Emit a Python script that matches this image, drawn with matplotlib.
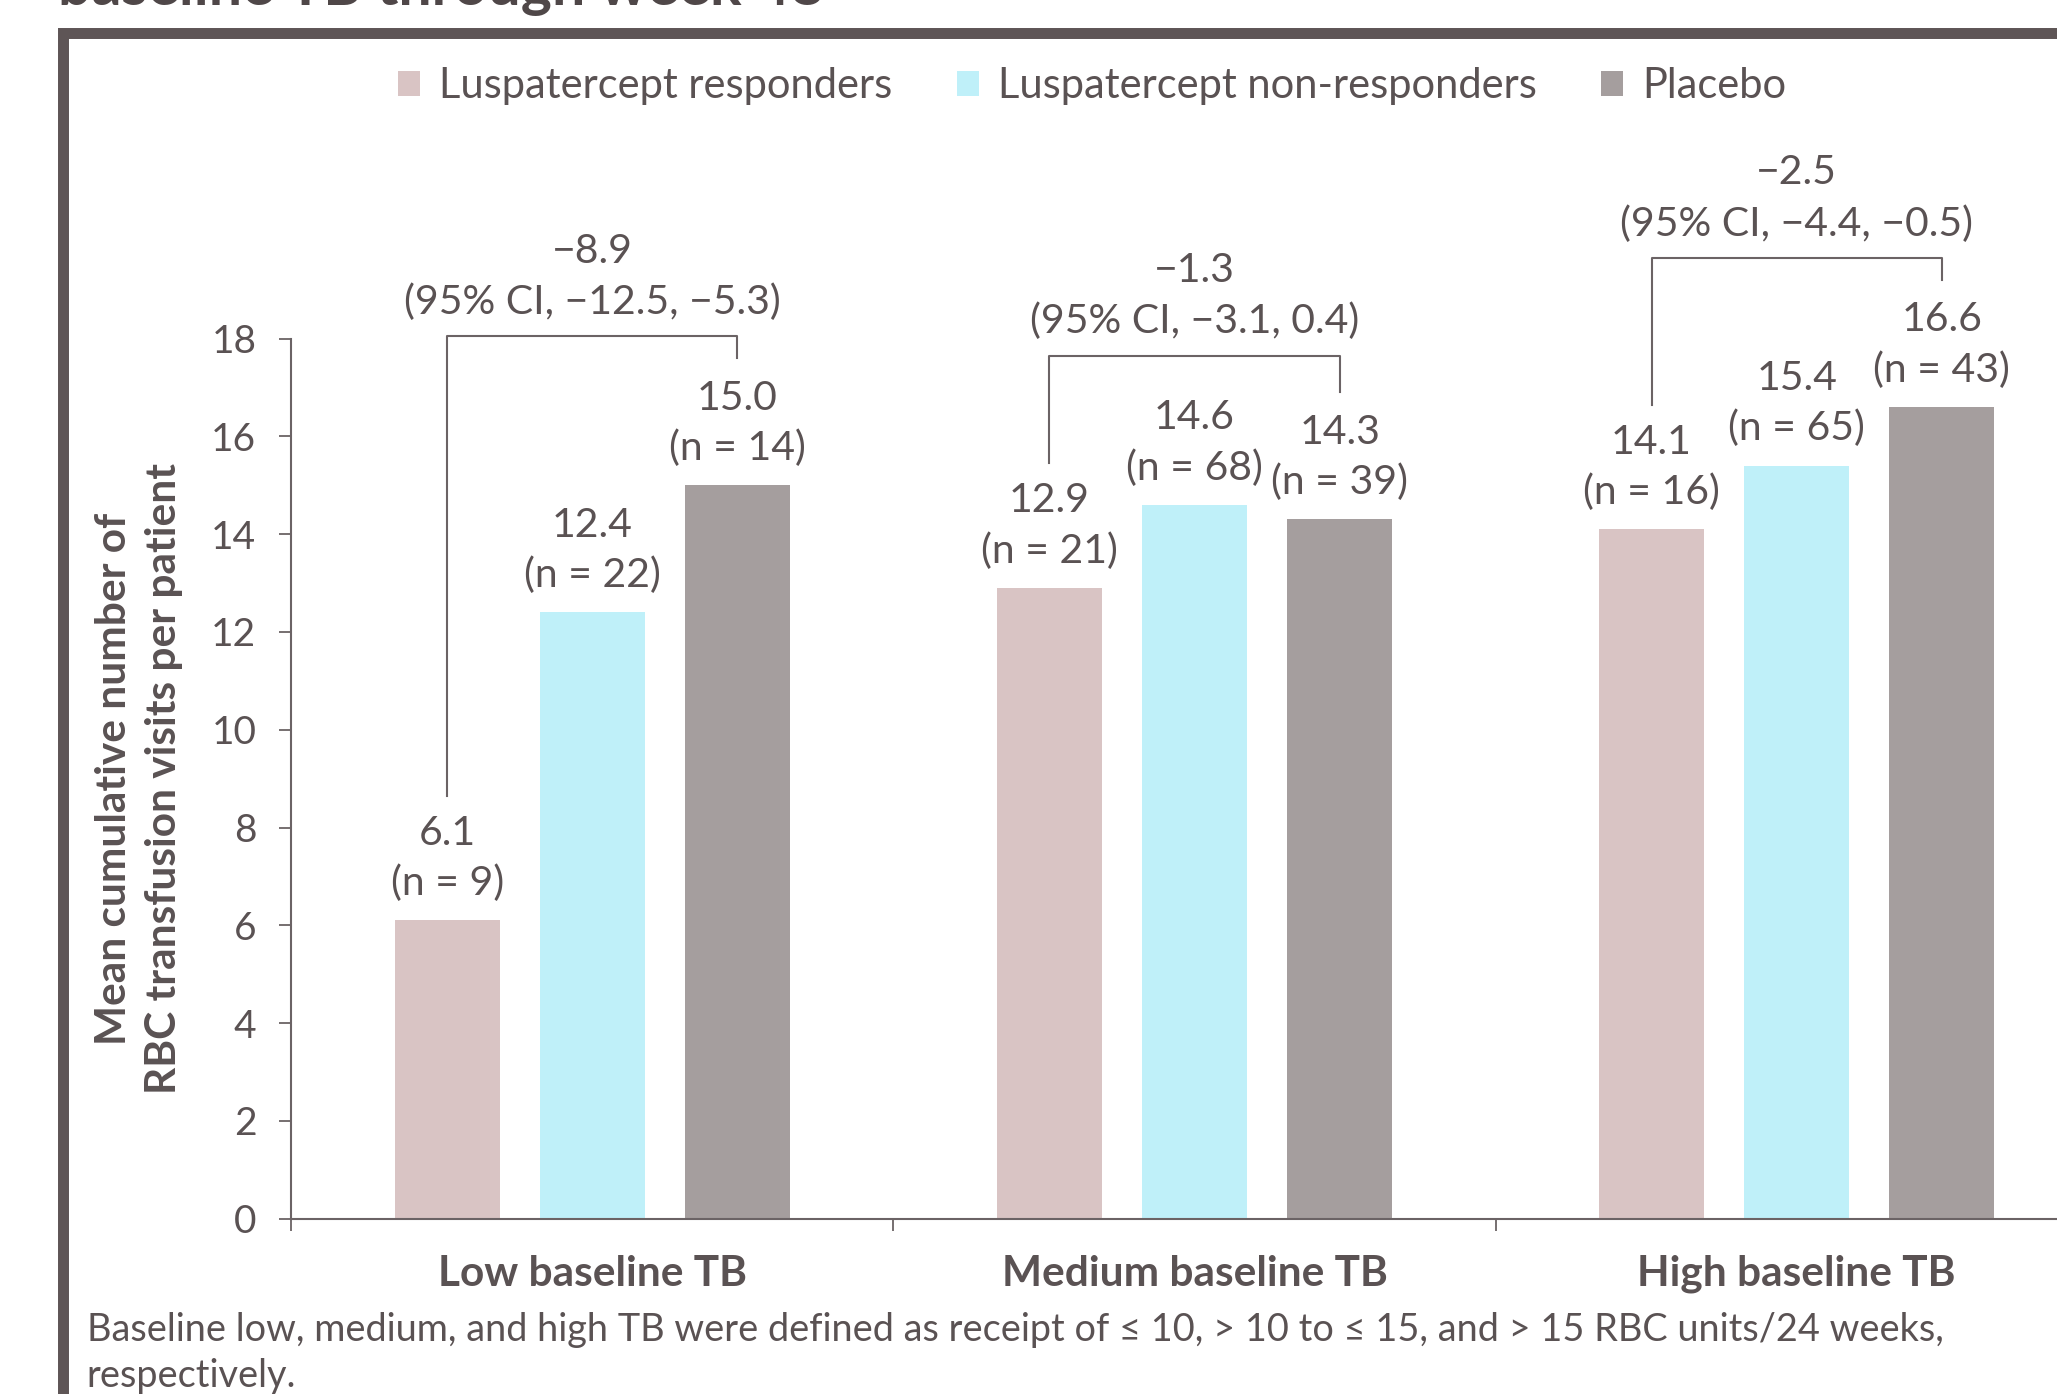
import matplotlib
matplotlib.use("Agg")
import matplotlib.pyplot as plt
from matplotlib.patches import Patch, Rectangle
import numpy as np

plt.rcParams['font.family'] = ['Lato', 'DejaVu Sans']

# ---------------- data ----------------
categories = ['Low baseline TB', 'Medium baseline TB', 'High baseline TB']
series_names = ['Luspatercept responders', 'Luspatercept non-responders', 'Placebo']
responders = [6.1, 12.9, 14.1]
responders_n = [9, 21, 16]
non_responders = [12.4, 14.6, 15.4]
non_responders_n = [22, 68, 65]
placebo = [15.0, 14.3, 16.6]
placebo_n = [14, 39, 43]
diff_est = [-8.9, -1.3, -2.5]
ci_low = [-12.5, -3.1, -4.4]
ci_high = [-5.3, 0.4, -0.5]
y_ticks = [0, 2, 4, 6, 8, 10, 12, 14, 16, 18]

title_text = 'baseline TB through week 48'
ylabel_text = 'Mean cumulative number of\nRBC transfusion visits per patient'
footnote_text = ('Baseline low, medium, and high TB were defined as receipt of \u2264 10, > 10 to \u2264 15, '
                 'and > 15 RBC units/24 weeks,\nrespectively.')

# ---------------- style ----------------
W, H = 2057, 1394
TEXT = '#5a5253'
FRAME = '#5e5556'
AXC = '#6b6365'
colors = ['#d9c4c4', '#bff0f9', '#a59e9e']
FS = 29.5


def fmt(v):
    return f'{v:.1f}'.replace('-', '\u2212')


fig = plt.figure(figsize=(W / 100, H / 100), dpi=100)

ax_left, ax_right = 291.2, 2097.8
ax_bottom, ax_top = 1218.8, 338.5
ax = fig.add_axes([ax_left / W, (H - ax_bottom) / H, (ax_right - ax_left) / W, (ax_bottom - ax_top) / H])

x = np.arange(len(categories))
offset = 0.241
bw = 0.174
all_series = [responders, non_responders, placebo]
all_n = [responders_n, non_responders_n, placebo_n]
for k, (vals, ns) in enumerate(zip(all_series, all_n)):
    xs = x + (k - 1) * offset
    ax.bar(xs, vals, width=bw, color=colors[k], label=series_names[k], zorder=2)
    for xi, v, n in zip(xs, vals, ns):
        ax.annotate(fmt(v), xy=(xi, v), xytext=(0, 87), textcoords='offset pixels',
                    ha='center', va='center', fontsize=FS, color=TEXT, annotation_clip=False)
        ax.annotate(f'(n = {n})', xy=(xi, v), xytext=(0, 37), textcoords='offset pixels',
                    ha='center', va='center', fontsize=FS, color=TEXT, annotation_clip=False)

# comparison brackets (responders vs placebo)
for i in range(len(categories)):
    x0 = x[i] - offset
    x2 = x[i] + offset
    top = max(responders[i], non_responders[i], placebo[i]) + 3.05
    ax.plot([x0, x0, x2, x2], [responders[i] + 2.55, top, top, placebo[i] + 2.6],
            color=AXC, lw=1.5, clip_on=False, zorder=3)
    mid = (x0 + x2) / 2
    ax.annotate(fmt(diff_est[i]), xy=(mid, top), xytext=(0, 85), textcoords='offset pixels',
                ha='center', va='center', fontsize=FS, color=TEXT, annotation_clip=False)
    ax.annotate(f'(95% CI, {fmt(ci_low[i])}, {fmt(ci_high[i])})', xy=(mid, top), xytext=(0, 34),
                textcoords='offset pixels', ha='center', va='center', fontsize=FS, color=TEXT,
                annotation_clip=False)

ax.set_xlim(-0.5, 2.5)
ax.set_ylim(0, 18)
ax.set_yticks(y_ticks)
ax.set_yticklabels([str(t) for t in y_ticks])
ax.tick_params(axis='y', direction='out', length=8.6, width=1.3, color=AXC, pad=16.5,
               labelsize=28, labelcolor=TEXT)

ax.set_xticks([-0.5, 0.5, 1.5, 2.5])
ax.set_xticklabels([])
ax.set_xticks(x, minor=True)
ax.set_xticklabels(categories, minor=True, fontweight='bold')
ax.tick_params(axis='x', which='major', direction='out', length=8.6, width=1.3, color=AXC)
ax.tick_params(axis='x', which='minor', length=0, pad=39.5, labelsize=30.5, labelcolor=TEXT)
for lab in ax.get_xminorticklabels():
    lab.set_va('center')

for s in ['top', 'right']:
    ax.spines[s].set_visible(False)
for s in ['left', 'bottom']:
    ax.spines[s].set_color(AXC)
    ax.spines[s].set_linewidth(1.5)

# y label
fig.text(139 / W, 1 - 779 / H, ylabel_text, rotation=90, ha='center', va='center',
         multialignment='center', fontsize=30.5, fontweight='bold', color=TEXT, linespacing=1.4)

# legend
handles = [Patch(facecolor=c, edgecolor='none') for c in colors]
fig.legend(handles, series_names, loc='center', bbox_to_anchor=(1092 / W, 1 - 86 / H), ncol=3,
           frameon=False, fontsize=30, handlelength=0.53, handleheight=0.53, handletextpad=0.45,
           columnspacing=1.55, borderpad=0, labelcolor=TEXT)

# footnote
fig.text(86.6 / W, 1 - 1353 / H, footnote_text, ha='left', va='center', fontsize=27.3,
         color=TEXT, linespacing=1.36)

# cut-off title at top
fig.text(58 / W, 1 - 5 / H, title_text, ha='left', va='baseline', fontsize=42.5,
         fontweight='bold', color='#4f4748')

# outer frame (extends past right and bottom edges)
fig.patches.append(Rectangle((62.5 / W, -0.1), 2.0, 1.1 - 32.5 / H, transform=fig.transFigure,
                             fill=False, edgecolor=FRAME, lw=7.9, joinstyle='miter', zorder=0))

fig.savefig('out.png', dpi=100)
